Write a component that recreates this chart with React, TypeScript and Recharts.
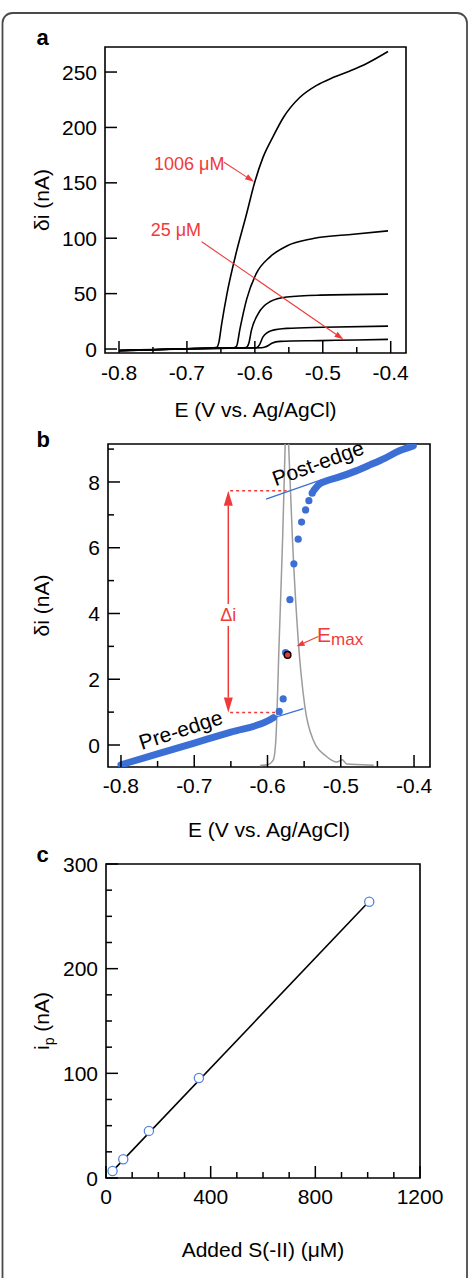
import React from "react";
import {
  ComposedChart,
  Line,
  Scatter,
  XAxis,
  YAxis,
  ReferenceArea,
  ReferenceLine,
  ReferenceDot,
  Label,
} from "recharts";

const FONT = "'Liberation Sans', Arial, Helvetica, sans-serif";
const RED = "#f03a3a";
const BLUE = "#3c6fd5";
const RING = "#5a86d8";
const GRAY = "#9c9c9c";

// panel a: voltammograms, [E (V), δi (nA)]
const curve1006 = [
  [-0.8, -1.6], [-0.75, -0.6], [-0.7, 0.2], [-0.665, 0.9], [-0.656, 1.6], [-0.653, 6],
  [-0.649, 22], [-0.641, 50], [-0.627, 88], [-0.613, 120], [-0.6, 151], [-0.588, 173],
  [-0.573, 192], [-0.558, 209], [-0.534, 227], [-0.509, 238], [-0.485, 245], [-0.46, 251],
  [-0.436, 257.5], [-0.404, 268.5],
];
const curve107 = [
  [-0.8, -1.5], [-0.75, -0.6], [-0.7, 0.2], [-0.66, 0.8], [-0.632, 1.1], [-0.627, 2.5],
  [-0.622, 18], [-0.612, 45], [-0.598, 68], [-0.578, 83], [-0.553, 93], [-0.514, 99.7],
  [-0.455, 103.6], [-0.404, 106.6],
];
const curve50 = [
  [-0.8, -1.4], [-0.75, -0.6], [-0.7, 0.2], [-0.66, 0.7], [-0.62, 1.0], [-0.613, 1.3],
  [-0.609, 5], [-0.605, 17], [-0.595, 32], [-0.578, 42.6], [-0.553, 47], [-0.504, 48.6],
  [-0.404, 49.5],
];
const curve20 = [
  [-0.8, -1.4], [-0.75, -0.6], [-0.7, 0.2], [-0.66, 0.6], [-0.62, 0.9], [-0.598, 1.2],
  [-0.593, 4], [-0.588, 11], [-0.576, 16.5], [-0.553, 18.6], [-0.5, 19.6], [-0.404, 20.7],
];
const curve9 = [
  [-0.8, -1.3], [-0.75, -0.5], [-0.7, 0.2], [-0.66, 0.6], [-0.62, 0.9], [-0.59, 1.1],
  [-0.585, 1.8], [-0.58, 3.2], [-0.575, 5.2], [-0.563, 6.9], [-0.504, 7.6], [-0.45, 8.2],
  [-0.404, 8.7],
];

// panel b: single scan, [E (V), δi (nA)]
const preEdgeBand = [[-0.8, -0.6], [-0.75, -0.27], [-0.7, 0.06], [-0.65, 0.39], [-0.6, 0.73], [-0.592, 0.83]];
const postEdgeBand = [
  [-0.537, 7.74], [-0.53, 7.92], [-0.52, 8.03], [-0.505, 8.13], [-0.48, 8.33], [-0.46, 8.52],
  [-0.44, 8.72], [-0.42, 8.95], [-0.401, 9.1],
];
const edgeDots = [
  [-0.584, 1.02], [-0.5786, 1.4], [-0.5753, 2.81], [-0.5694, 4.42], [-0.564, 5.51],
  [-0.5581, 6.26], [-0.5535, 6.78], [-0.548, 7.15], [-0.5435, 7.43], [-0.539, 7.66],
];
const emaxPoint = [[-0.5726, 2.74]];
const preTangent = [[-0.62, 0.63], [-0.551, 1.11]];
const postTangent = [[-0.602, 7.48], [-0.524, 8.09]];
const derivPeak = [
  [-0.61, -0.62], [-0.6, -0.6], [-0.592, -0.45], [-0.5886, 0.16], [-0.584, 3.2], [-0.5794, 6.24],
  [-0.5763, 8.77], [-0.574, 10.5], [-0.5705, 8.77], [-0.5659, 6.24], [-0.5581, 3.2], [-0.549, 1.17],
  [-0.5377, 0.16], [-0.5195, -0.35], [-0.505, -0.52], [-0.498, -0.45], [-0.492, -0.58],
  [-0.47, -0.6], [-0.455, -0.62],
];
const postLevel = [[-0.651, 7.73], [-0.574, 7.73]];
const preLevel = [[-0.651, 0.99], [-0.5853, 0.99]];

// panel c: calibration
const addedConc = [25, 66, 164, 355, 1006];
const peakCurrent = [6.7, 17.9, 45.0, 95.6, 263.9];
const fitConc = [25, 1006];
const fitCurrent = [6.6, 264.4];

// axes
const xDomainA = [-0.8206, -0.3775];
const yDomainA = [-3.6, 272.6];
const xDomainB = [-0.8177, -0.3782];
const yDomainB = [-0.669, 9.155];
const xDomainC = [0, 1200];
const yDomainC = [0, 300];

const eTicks = [-0.8, -0.75, -0.7, -0.65, -0.6, -0.55, -0.5, -0.45, -0.4];
const eMajor = [-0.8, -0.7, -0.6, -0.5, -0.4];
const yTicksA = [0, 50, 100, 150, 200, 250];
const yTicksB = [0, 1, 2, 3, 4, 5, 6, 7, 8, 9];
const yMajorB = [0, 2, 4, 6, 8];
const xTicksC = [0, 100, 200, 300, 400, 500, 600, 700, 800, 900, 1000, 1100, 1200];
const xMajorC = [0, 400, 800, 1200];
const yTicksC = [0, 25, 50, 75, 100, 125, 150, 175, 200, 225, 250, 275, 300];
const yMajorC = [0, 100, 200, 300];

type P = { x: number; y: number };
const pts = (rows: number[][]): P[] => rows.map(([x, y]) => ({ x, y }));
const zip = (xs: number[], ys: number[]): P[] => xs.map((x, i) => ({ x, y: ys[i] }));

const onList = (list: number[], v: number) => list.some((m) => Math.abs(m - v) < 1e-6);
const fmtE = (v: number) => v.toFixed(1);
const fmtInt = (v: number) => String(v);

const bottomTick = (majors: number[], fmt: (v: number) => string, dy: number) => (p: any) => {
  const major = onList(majors, p.payload.value);
  return (
    <g>
      <line x1={p.x} x2={p.x} y1={p.y} y2={p.y - (major ? 12 : 6)} stroke="#000" strokeWidth={1.5} />
      {major ? (
        <text x={p.x} y={p.y + dy} textAnchor="middle" fontSize={21} fill="#000">
          {fmt(p.payload.value)}
        </text>
      ) : null}
    </g>
  );
};

const leftTick = (majors: number[], gap: number) => (p: any) => {
  const major = onList(majors, p.payload.value);
  return (
    <g>
      <line x1={p.x} x2={p.x + (major ? 12 : 6)} y1={p.y} y2={p.y} stroke="#000" strokeWidth={1.5} />
      {major ? (
        <text x={p.x - gap} y={p.y} dy="0.36em" textAnchor="end" fontSize={21} fill="#000">
          {fmtInt(p.payload.value)}
        </text>
      ) : null}
    </g>
  );
};

const xTitle = (text: React.ReactNode) => (p: any) => {
  const vb = p.viewBox;
  return (
    <text x={vb.x + vb.width / 2} y={vb.y + vb.height} textAnchor="middle" fontSize={21} fill="#000">
      {text}
    </text>
  );
};

const yTitle = (text: React.ReactNode, dx: number) => (p: any) => {
  const vb = p.viewBox;
  const cx = vb.x + dx;
  const cy = vb.y + vb.height / 2;
  return (
    <text transform={`translate(${cx},${cy}) rotate(-90)`} dy="0.36em" textAnchor="middle" fontSize={21} fill="#000">
      {text}
    </text>
  );
};

const arrow = (head: number, half: number) => (p: any) => {
  const { x1, y1, x2, y2 } = p;
  const a = Math.atan2(y2 - y1, x2 - x1);
  const bx = x2 - head * Math.cos(a);
  const by = y2 - head * Math.sin(a);
  const nx = -Math.sin(a) * half;
  const ny = Math.cos(a) * half;
  return (
    <g>
      <line x1={x1} y1={y1} x2={bx} y2={by} stroke={RED} strokeWidth={1.1} />
      <polygon points={`${x2},${y2} ${bx + nx},${by + ny} ${bx - nx},${by - ny}`} fill={RED} />
    </g>
  );
};

const deltaArrow = (p: any) => {
  const x = p.x1;
  const top = Math.min(p.y1, p.y2);
  const bot = Math.max(p.y1, p.y2);
  const mid = top + 0.56 * (bot - top);
  const h = 15;
  const w = 4.5;
  const gap = 11;
  return (
    <g>
      <line x1={x} x2={x} y1={top + h} y2={mid - gap} stroke={RED} strokeWidth={1.5} />
      <line x1={x} x2={x} y1={mid + gap} y2={bot - h} stroke={RED} strokeWidth={1.5} />
      <polygon points={`${x},${top} ${x - w},${top + h} ${x + w},${top + h}`} fill={RED} />
      <polygon points={`${x},${bot} ${x - w},${bot - h} ${x + w},${bot - h}`} fill={RED} />
      <text x={x} y={mid} dy="0.36em" textAnchor="middle" fontSize={18} fill={RED}>
        Δi
      </text>
    </g>
  );
};

const textAt =
  (content: React.ReactNode, size: number, color: string, angle = 0, centered = false) =>
  (p: any) => (
    <text
      x={p.cx}
      y={p.cy}
      fontSize={size}
      fill={color}
      textAnchor={centered ? "middle" : "start"}
      dominantBaseline={centered ? "central" : undefined}
      transform={angle ? `rotate(${angle} ${p.cx} ${p.cy})` : undefined}
    >
      {content}
    </text>
  );

const blueDot = (p: any) => <circle cx={p.cx} cy={p.cy} r={3.6} fill={BLUE} />;
const emaxDot = (p: any) => <circle cx={p.cx} cy={p.cy} r={3.3} fill="#e53935" stroke="#000" strokeWidth={1.5} />;
const ring = (p: any) => <circle cx={p.cx} cy={p.cy} r={4.6} fill="#fff" stroke={RING} strokeWidth={1.3} />;

const lineProps = { dot: false, activeDot: false, isAnimationActive: false } as const;

const Frame = ({ xd, yd }: { xd: number[]; yd: number[] }) => null;

const PanelA = () => (
  <ComposedChart width={469} height={430} margin={{ top: 47, right: 63, bottom: 13, left: 0 }}>
    <XAxis
      type="number"
      dataKey="x"
      domain={xDomainA}
      ticks={eTicks}
      interval={0}
      allowDataOverflow
      axisLine={false}
      tickLine={false}
      tickSize={0}
      tickMargin={0}
      height={64}
      tick={bottomTick(eMajor, fmtE, 27)}
      label={<Label content={xTitle("E (V vs. Ag/AgCl)")} />}
    />
    <YAxis
      type="number"
      dataKey="y"
      domain={yDomainA}
      ticks={yTicksA}
      interval={0}
      allowDataOverflow
      axisLine={false}
      tickLine={false}
      tickSize={0}
      tickMargin={0}
      width={105}
      tick={leftTick(yTicksA, 8)}
      label={<Label content={yTitle("δi (nA)", 41)} />}
    />
    <ReferenceArea x1={xDomainA[0]} x2={xDomainA[1]} y1={yDomainA[0]} y2={yDomainA[1]} fill="none" stroke="#000" strokeWidth={1.6} ifOverflow="visible" />
    {[curve1006, curve107, curve50, curve20, curve9].map((c, i) => (
      <Line key={i} data={pts(c)} dataKey="y" type="monotone" stroke="#000" strokeWidth={1.6} {...lineProps} />
    ))}
    <ReferenceLine segment={[{ x: -0.6454, y: 168.5 }, { x: -0.6012, y: 151 }]} ifOverflow="visible" shape={arrow(9, 3)} />
    <ReferenceLine segment={[{ x: -0.6782, y: 96.8 }, { x: -0.4697, y: 8.75 }]} ifOverflow="visible" shape={arrow(9, 3)} />
    <ReferenceDot x={-0.7485} y={161.6} ifOverflow="visible" shape={textAt("1006 μM", 18, RED)} />
    <ReferenceDot x={-0.7533} y={102} ifOverflow="visible" shape={textAt("25 μM", 18, RED)} />
  </ComposedChart>
);

const PanelB = () => (
  <ComposedChart width={469} height={430} margin={{ top: 24, right: 39, bottom: 13, left: 0 }}>
    <XAxis
      type="number"
      dataKey="x"
      domain={xDomainB}
      ticks={eTicks}
      interval={0}
      allowDataOverflow
      axisLine={false}
      tickLine={false}
      tickSize={0}
      tickMargin={0}
      height={70}
      tick={bottomTick(eMajor, fmtE, 26)}
      label={<Label content={xTitle("E (V vs. Ag/AgCl)")} />}
    />
    <YAxis
      type="number"
      dataKey="y"
      domain={yDomainB}
      ticks={yTicksB}
      interval={0}
      allowDataOverflow
      axisLine={false}
      tickLine={false}
      tickSize={0}
      tickMargin={0}
      width={108}
      tick={leftTick(yMajorB, 8)}
      label={<Label content={yTitle("δi (nA)", 41)} />}
    />
    <ReferenceArea x1={xDomainB[0]} x2={xDomainB[1]} y1={yDomainB[0]} y2={yDomainB[1]} fill="none" stroke="#000" strokeWidth={1.6} ifOverflow="visible" />
    <Line data={pts(derivPeak)} dataKey="y" type="monotone" stroke={GRAY} strokeWidth={1.5} {...lineProps} />
    <Line data={pts(preTangent)} dataKey="y" type="linear" stroke={BLUE} strokeWidth={1.3} {...lineProps} />
    <Line data={pts(postTangent)} dataKey="y" type="linear" stroke={BLUE} strokeWidth={1.3} {...lineProps} />
    <Line data={pts(preEdgeBand)} dataKey="y" type="monotone" stroke={BLUE} strokeWidth={7} strokeLinecap="round" strokeLinejoin="round" {...lineProps} />
    <Line data={pts(postEdgeBand)} dataKey="y" type="monotone" stroke={BLUE} strokeWidth={7} strokeLinecap="round" strokeLinejoin="round" {...lineProps} />
    <Line data={pts(postLevel)} dataKey="y" type="linear" stroke={RED} strokeWidth={1.5} strokeDasharray="3 3" {...lineProps} />
    <Line data={pts(preLevel)} dataKey="y" type="linear" stroke={RED} strokeWidth={1.5} strokeDasharray="3 3" {...lineProps} />
    <Scatter data={pts(edgeDots)} shape={blueDot} isAnimationActive={false} />
    <Scatter data={pts(emaxPoint)} shape={emaxDot} isAnimationActive={false} />
    <ReferenceLine segment={[{ x: -0.6535, y: 7.73 }, { x: -0.6535, y: 0.99 }]} ifOverflow="visible" shape={deltaArrow} />
    <ReferenceLine segment={[{ x: -0.5308, y: 3.3 }, { x: -0.5603, y: 3.0 }]} ifOverflow="visible" shape={arrow(8, 3)} />
    <ReferenceDot
      x={-0.5324}
      y={3.14}
      ifOverflow="visible"
      shape={textAt(
        <>
          <tspan>E</tspan>
          <tspan fontSize={17} dy={3.5}>max</tspan>
        </>,
        21,
        RED
      )}
    />
    <ReferenceDot x={-0.7186} y={0.47} ifOverflow="visible" shape={textAt("Pre-edge", 21, "#000", -18, true)} />
    <ReferenceDot x={-0.5312} y={8.58} ifOverflow="visible" shape={textAt("Post-edge", 21, "#000", -20, true)} />
  </ComposedChart>
);

const PanelC = () => (
  <ComposedChart width={469} height={438} margin={{ top: 24, right: 49, bottom: 21, left: 0 }}>
    <XAxis
      type="number"
      dataKey="x"
      domain={xDomainC}
      ticks={xTicksC}
      interval={0}
      allowDataOverflow
      axisLine={false}
      tickLine={false}
      tickSize={0}
      tickMargin={0}
      height={79}
      tick={bottomTick(xMajorC, fmtInt, 25.5)}
      label={<Label content={xTitle("Added S(-II) (μM)")} />}
    />
    <YAxis
      type="number"
      dataKey="y"
      domain={yDomainC}
      ticks={yTicksC}
      interval={0}
      allowDataOverflow
      axisLine={false}
      tickLine={false}
      tickSize={0}
      tickMargin={0}
      width={106}
      tick={leftTick(yMajorC, 8)}
      label={
        <Label
          content={yTitle(
            <>
              <tspan>i</tspan>
              <tspan fontSize={14} dy={5}>p</tspan>
              <tspan dy={-5}> (nA)</tspan>
            </>,
            41
          )}
        />
      }
    />
    <ReferenceArea x1={xDomainC[0]} x2={xDomainC[1]} y1={yDomainC[0]} y2={yDomainC[1]} fill="none" stroke="#000" strokeWidth={1.6} ifOverflow="visible" />
    <Line data={zip(fitConc, fitCurrent)} dataKey="y" type="linear" stroke="#000" strokeWidth={1.6} {...lineProps} />
    <Scatter data={zip(addedConc, peakCurrent)} shape={ring} isAnimationActive={false} />
  </ComposedChart>
);

export default function App() {
  return (
    <div
      style={{
        position: "absolute",
        left: 0,
        top: 0,
        width: 469,
        height: 1278,
        overflow: "hidden",
        background: "#fff",
        fontFamily: FONT,
      }}
    >
      <div style={{ position: "absolute", left: 0, top: 0 }}>
        <PanelA />
      </div>
      <div style={{ position: "absolute", left: 0, top: 420 }}>
        <PanelB />
      </div>
      <div style={{ position: "absolute", left: 0, top: 840 }}>
        <PanelC />
      </div>
      <svg width={469} height={1278} style={{ position: "absolute", left: 0, top: 0, pointerEvents: "none" }}>
        <rect x={2.5} y={13} width={464.5} height={1300} rx={10} fill="none" stroke="#4a4a4a" strokeWidth={1.8} />
        <text x={36.5} y={45} fontSize={22} fontWeight="bold" fontFamily={FONT}>a</text>
        <text x={36.5} y={447} fontSize={22} fontWeight="bold" fontFamily={FONT}>b</text>
        <text x={36.5} y={861.5} fontSize={22} fontWeight="bold" fontFamily={FONT}>c</text>
      </svg>
    </div>
  );
}
